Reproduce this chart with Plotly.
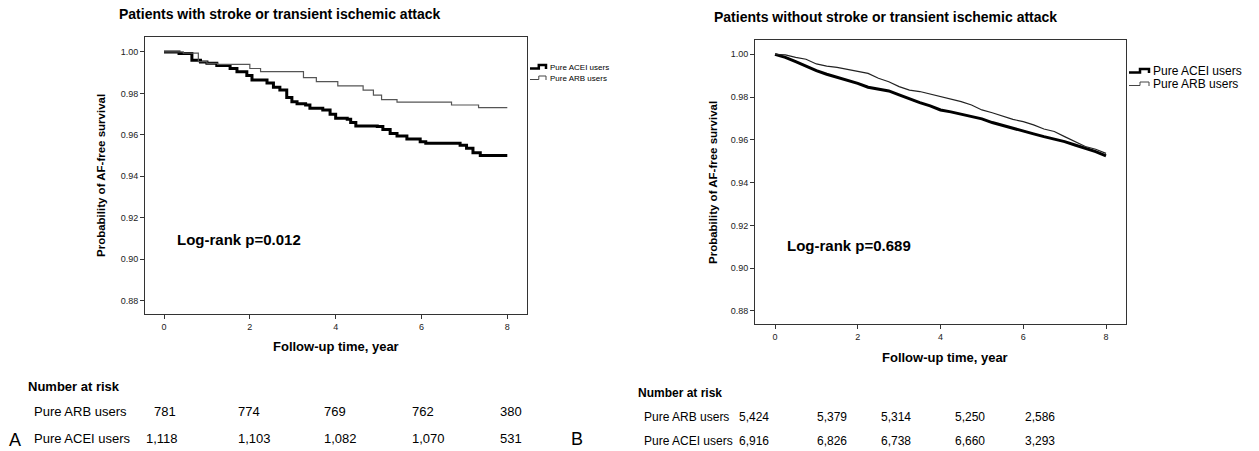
import plotly.graph_objects as go

W, H = 1259, 451

# ---------------- data ----------------
left_acei_t = [0, 0.35, 0.65, 0.85, 1.0, 1.23, 1.54, 1.7, 1.93, 2.05, 2.4, 2.55, 2.7, 2.86, 2.98, 3.1,
               3.3, 3.4, 3.7, 3.87, 4.0, 4.27, 4.35, 4.47, 4.97, 5.1, 5.27, 5.43, 5.66, 5.97, 6.1,
               6.9, 7.05, 7.2, 7.37, 8.0]
left_acei_s = [1.000, 0.9993, 0.996, 0.9952, 0.9945, 0.9934, 0.992, 0.9905, 0.9886, 0.9865, 0.985,
               0.983, 0.9816, 0.978, 0.976, 0.975, 0.9744, 0.9728, 0.972, 0.970, 0.968, 0.9675,
               0.966, 0.9643, 0.964, 0.9626, 0.9607, 0.9594, 0.958, 0.9567, 0.956, 0.955, 0.9535,
               0.9514, 0.950, 0.950]
left_arb_t = [0, 0.45, 0.8, 1.0, 1.25, 2.0, 2.25, 3.25, 3.55, 4.05, 4.64, 4.88, 5.07, 5.43, 6.7, 7.33, 8.0]
left_arb_s = [1.000, 0.9994, 0.9953, 0.9945, 0.994, 0.992, 0.9905, 0.9876, 0.9857, 0.9836, 0.9816,
              0.9792, 0.977, 0.9758, 0.9744, 0.9731, 0.9731]

right_t = [0, 0.25, 0.5, 0.75, 1.0, 1.25, 1.5, 1.75, 2.0, 2.25, 2.5, 2.75, 3.0, 3.25, 3.5, 3.75, 4.0,
           4.25, 4.5, 4.75, 5.0, 5.25, 5.5, 5.75, 6.0, 6.25, 6.5, 6.75, 7.0, 7.25, 7.5, 7.75, 8.0]
right_acei_s = [1.000, 0.9986, 0.9966, 0.9945, 0.9924, 0.9907, 0.9893, 0.988, 0.9864, 0.9846, 0.9836,
                0.9829, 0.981, 0.9791, 0.9774, 0.9759, 0.974, 0.9731, 0.972, 0.9712, 0.9698, 0.9681,
                0.9667, 0.9653, 0.9639, 0.9628, 0.9615, 0.9603, 0.9592, 0.9576, 0.9561, 0.9545, 0.9525]
right_arb_s = [1.000, 0.9997, 0.9986, 0.9977, 0.9955, 0.9945, 0.9939, 0.993, 0.9921, 0.9911, 0.9888,
               0.9872, 0.9849, 0.9833, 0.9826, 0.9815, 0.9802, 0.9791, 0.9779, 0.9763, 0.974, 0.9727,
               0.9712, 0.9696, 0.9685, 0.967, 0.9651, 0.9639, 0.9615, 0.9592, 0.9569, 0.9556, 0.9537]

x_ticks = [0, 2, 4, 6, 8]
y_ticks = [0.88, 0.90, 0.92, 0.94, 0.96, 0.98, 1.00]

title_left = "Patients with stroke or transient ischemic attack"
title_right = "Patients without stroke or transient ischemic attack"
logrank_left = "Log-rank p=0.012"
logrank_right = "Log-rank p=0.689"
series_names = ["Pure ACEI users", "Pure ARB users"]
risk_rows = ["Pure ARB users", "Pure ACEI users"]
risk_left = [["781", "774", "769", "762", "380"], ["1,118", "1,103", "1,082", "1,070", "531"]]
risk_right = [["5,424", "5,379", "5,314", "5,250", "2,586"], ["6,916", "6,826", "6,738", "6,660", "3,293"]]

FONT = "Liberation Sans, Arial, sans-serif"

# ---------------- figure ----------------
fig = go.Figure()

fig.add_trace(go.Scatter(x=left_acei_t, y=left_acei_s, mode="lines", line=dict(shape="hv", color="#000", width=3),
                         name=series_names[0], xaxis="x", yaxis="y", showlegend=False))
fig.add_trace(go.Scatter(x=left_arb_t, y=left_arb_s, mode="lines", line=dict(shape="hv", color="#555", width=1.2),
                         name=series_names[1], xaxis="x", yaxis="y", showlegend=False))
fig.add_trace(go.Scatter(x=right_t, y=right_acei_s, mode="lines", line=dict(shape="linear", color="#000", width=3),
                         name=series_names[0], xaxis="x2", yaxis="y2", showlegend=False))
fig.add_trace(go.Scatter(x=right_t, y=right_arb_s, mode="lines", line=dict(shape="linear", color="#222", width=1.2),
                         name=series_names[1], xaxis="x2", yaxis="y2", showlegend=False))

def px(x):
    return x / W

def py(y):
    return 1 - y / H

axis_common = dict(showline=True, linecolor="#333", linewidth=1, mirror=True, showgrid=False, zeroline=False,
                   ticks="outside", ticklen=4, tickcolor="#333", tickfont=dict(family=FONT, size=9, color="#222"))

# right panel geometry
R_L, R_R = 755, 1126
R_X0, R_X8 = 775, 1106
r_unit = (R_X8 - R_X0) / 8.0
r_range = [(R_L - R_X0) / r_unit, 8 + (R_R - R_X8) / r_unit]

fig.update_layout(
    width=W, height=H, margin=dict(l=0, r=0, t=0, b=0),
    paper_bgcolor="white", plot_bgcolor="white",
    font=dict(family=FONT, color="#000"),
    showlegend=False,
    xaxis=dict(domain=[px(145), px(527)], range=[-0.443, 8.459], tickvals=x_ticks, anchor="y", **axis_common),
    yaxis=dict(domain=[py(314), py(37)], range=[0.8736, 1.0072], tickvals=y_ticks, tickformat=".2f",
               anchor="x", **axis_common),
    xaxis2=dict(domain=[px(R_L), px(R_R)], range=r_range, tickvals=x_ticks, anchor="y2", **axis_common),
    yaxis2=dict(domain=[py(324), py(40)], range=[0.8739, 1.0067], tickvals=y_ticks, tickformat=".2f",
                anchor="x2", **axis_common),
)

ann = []
shapes = []

def text(x, y, s, size, bold=False, xanchor="left", angle=0):
    ann.append(dict(x=px(x), y=py(y), xref="paper", yref="paper", text=f"<b>{s}</b>" if bold else s,
                    showarrow=False, xanchor=xanchor, yanchor="middle", textangle=angle,
                    font=dict(family=FONT, size=size, color="#000")))

def legend_sample(x0, x1, y, width, color):
    # small step-shaped legend glyph (as in SPSS survival plots)
    xm = x0 + (x1 - x0) * 0.55
    path = (f"M {px(x0)},{py(y + 1.5)} L {px(xm)},{py(y + 1.5)} L {px(xm)},{py(y - 2)} "
            f"L {px(x1)},{py(y - 2)} L {px(x1)},{py(y + 2)}")
    shapes.append(dict(type="path", xref="paper", yref="paper", path=path,
                       line=dict(color=color, width=width)))

# titles
text(117, 14, title_left, 14, bold=True)
text(712, 17, title_right, 14, bold=True)
# axis titles
text(336, 346, "Follow-up time, year", 13, bold=True, xanchor="center")
text(945, 357, "Follow-up time, year", 13, bold=True, xanchor="center")
text(101, 176, "Probability of AF-free survival", 11.5, bold=True, xanchor="center", angle=-90)
text(713, 183, "Probability of AF-free survival", 11.5, bold=True, xanchor="center", angle=-90)
# log-rank
text(175, 239, logrank_left, 15, bold=True)
text(785, 246, logrank_right, 15, bold=True)

# legends
leg_left_y = [67, 78]
leg_right_y = [71, 84]
leg_styles = [(2.5, "#000"), (1, "#444")]
for i, name in enumerate(series_names):
    legend_sample(530, 546, leg_left_y[i], *leg_styles[i])
    text(548, leg_left_y[i], name, 8)
    legend_sample(1129, 1149, leg_right_y[i], *leg_styles[i])
    text(1151, leg_right_y[i], name, 12)

# number at risk tables
text(26, 386, "Number at risk", 13, bold=True)
row_y_left = [411, 438]
col_x_left = [[152, 236, 322, 410, 498], [144, 236, 322, 410, 498]]
for r, (lab, vals) in enumerate(zip(risk_rows, risk_left)):
    text(32, row_y_left[r], lab, 13)
    for c, v in enumerate(vals):
        text(col_x_left[r][c], row_y_left[r], v, 13)

text(636, 393, "Number at risk", 12, bold=True)
row_y_right = [417, 441]
col_x_right = [737, 815, 879, 953, 1023]
for r, (lab, vals) in enumerate(zip(risk_rows, risk_right)):
    text(642, row_y_right[r], lab, 12)
    for c, v in enumerate(vals):
        text(col_x_right[c], row_y_right[r], v, 12)

# panel letters
text(7, 440, "A", 18)
text(569, 439, "B", 18)

fig.update_layout(annotations=ann, shapes=shapes)
fig.write_html("out.html", config={"displayModeBar": False},
               post_script="document.body.style.margin='0';document.body.style.overflow='hidden';")
